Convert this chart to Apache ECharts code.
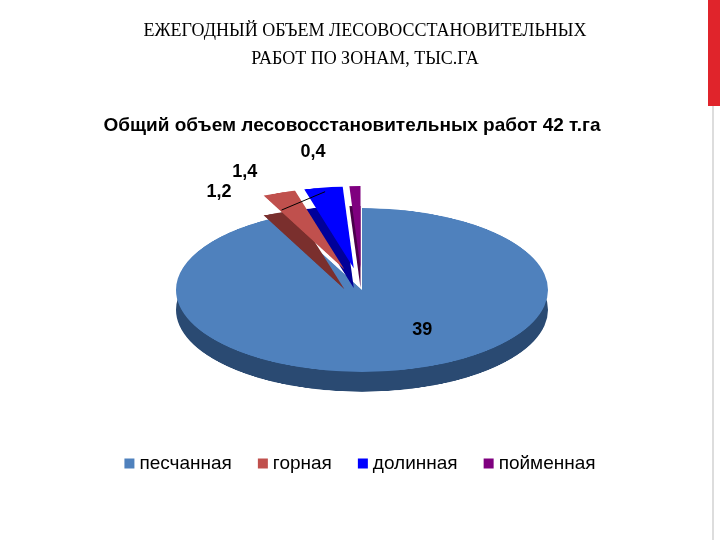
<!DOCTYPE html>
<html><head><meta charset="utf-8">
<script src="https://cdn.jsdelivr.net/npm/echarts@6/dist/echarts.min.js"></script>
<style>
body{margin:0;background:#fff;}
#wrap{position:relative;width:720px;height:540px;overflow:hidden;}
#pie{position:absolute;left:0;top:0;width:720px;height:540px;transform-origin:362px 290px;transform:scaleY(0.44);}
#main{position:absolute;left:0;top:0;width:720px;height:540px;}
#bar{position:absolute;left:708px;top:0;width:12px;height:106px;background:#e0242b;}
#line{position:absolute;left:712px;top:106px;width:2px;height:434px;background:#ddd;}
</style></head><body>
<div id="wrap"><div id="pie"></div><div id="main"></div><div id="bar"></div><div id="line"></div></div>
<script>
const zones = ['песчанная', 'горная', 'долинная', 'пойменная'];
const volumes = [39, 1.2, 1.4, 0.4];
const labels = ['39', '1,2', '1,4', '0,4'];
const colors = ['#4F81BD', '#C0504D', '#0000FF', '#7F007F'];
const darks = ['#2a4a72', '#7a2f2d', '#000099', '#4a004a'];

const pieChart = echarts.init(document.getElementById('pie'));
const sliceData = (pal) => zones.map((z, i) => ({
    name: z, value: volumes[i], selected: i > 0, itemStyle: { color: pal[i] }
}));
pieChart.setOption({
    animation: false,
    series: [
        { type: 'pie', center: [362, 335], radius: 186, startAngle: 90, selectedMode: 'multiple',
          selectedOffset: 50, label: { show: false }, data: sliceData(darks), silent: true },
        { type: 'pie', center: [362, 290], radius: 186, startAngle: 90, selectedMode: 'multiple',
          selectedOffset: 50, label: { show: false }, data: sliceData(colors), silent: true }
    ]
});

const chart = echarts.init(document.getElementById('main'));
chart.setOption({
    animation: false,
    title: [
        { text: 'ЕЖЕГОДНЫЙ ОБЪЕМ ЛЕСОВОССТАНОВИТЕЛЬНЫХ\nРАБОТ ПО ЗОНАМ, ТЫС.ГА', left: 360, top: 12, textAlign: 'center',
          textStyle: { fontFamily: 'Liberation Serif', fontSize: 18, fontWeight: 'normal', color: '#000', lineHeight: 28 } },
        { text: 'Общий объем лесовосстановительных работ 42 т.га', left: 347, top: 111, textAlign: 'center',
          textStyle: { fontFamily: 'Liberation Sans', fontSize: 19, fontWeight: 'bold', color: '#000' } }
    ],
    legend: {
        bottom: 62, left: 'center', itemWidth: 10, itemHeight: 10, itemGap: 26, icon: 'rect',
        textStyle: { fontFamily: 'Liberation Sans', fontSize: 19, color: '#000' },
        data: zones.map((z, i) => ({ name: z, itemStyle: { color: colors[i], opacity: 1 } }))
    },
    series: [{
        type: 'pie', center: [362, 290], radius: 105, startAngle: 90, silent: true,
        itemStyle: { color: 'rgba(0,0,0,0)' },
        label: { fontFamily: 'Liberation Sans', fontSize: 18, fontWeight: 'bold', color: '#000',
                 formatter: p => labels[p.dataIndex] },
        labelLine: { show: false },
        data: zones.map((z, i) => ({
            name: z, value: volumes[i],
            label: i === 0 ? { position: 'inside', offset: [48, -14] } : { position: 'outside', offset: [i === 1 ? -45 : (i === 2 ? -8 : 2), -18] },
            labelLine: i === 1 ? { show: true, length: 4, length2: 4, lineStyle: { color: '#000', width: 1 } } : { show: false }
        }))
    }]
});
</script></body></html>
